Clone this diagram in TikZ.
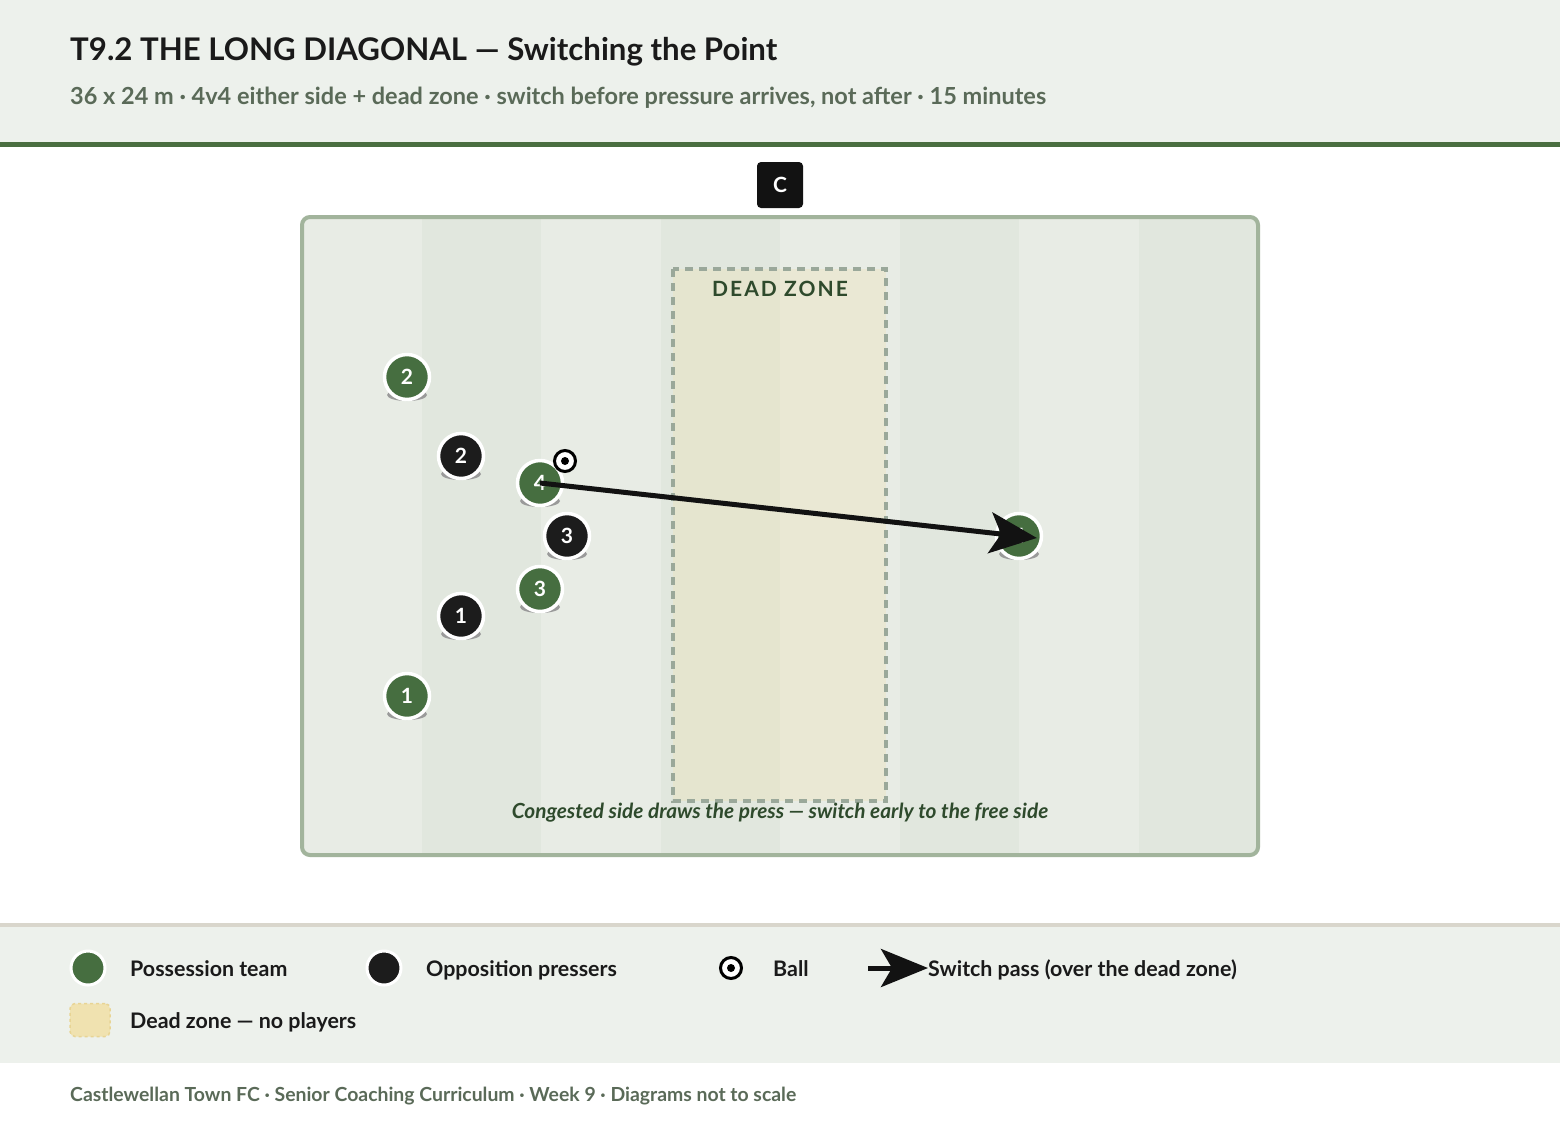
\documentclass[tikz,border=0pt]{standalone}
\usepackage{fontspec}
\setmainfont{Lato}
\usetikzlibrary{arrows.meta,calc}
\definecolor{hdrbg}{HTML}{EDF1EC}
\definecolor{hdrline}{HTML}{4A6E40}
\definecolor{legline}{HTML}{D9D6CC}
\definecolor{titlec}{HTML}{1A1A1A}
\definecolor{subc}{HTML}{5A6A58}
\definecolor{stripeA}{HTML}{E8ECE5}
\definecolor{stripeB}{HTML}{E1E7DE}
\definecolor{pitchline}{HTML}{A2B49C}
\definecolor{dzfill}{HTML}{F2E0A8}
\definecolor{dzline}{HTML}{9AA89A}
\definecolor{dztext}{HTML}{2E4A2C}
\definecolor{pgreen}{HTML}{466E40}
\definecolor{pblack}{HTML}{1C1C1C}
\definecolor{shd}{HTML}{9A9A9A}
\definecolor{swatch}{HTML}{F0E2B0}
\definecolor{swatchline}{HTML}{E8D494}
\newcommand\plyr[5]{%
  \fill[shd] (#2,#3+18) ellipse [x radius=20, y radius=6];
  \node[player, fill=#4] (#1) at (#2,#3) {#5};}
\begin{document}
\begin{tikzpicture}[x=1pt,y=-1pt,
  player/.style={circle, minimum size=45pt, inner sep=0pt, draw=white, line width=3.5pt,
    text=white, font=\bfseries\fontsize{21}{21}\selectfont},
  legdot/.style={circle, minimum size=34pt, inner sep=0pt, draw=white, line width=3pt},
  ballnode/.style={circle, minimum size=21pt, inner sep=0pt, draw=black, line width=3pt, fill=white},
  legtext/.style={anchor=base west, inner sep=0pt, text=titlec, font=\bfseries\fontsize{21.4}{24}\selectfont},
  passarrow/.style={line width=5pt, draw=black!93, -{Stealth[length=47pt, width=41pt, inset=11pt]}},
]
\useasboundingbox (0,0) rectangle (1560,1120);
\fill[white] (0,0) rectangle (1560,1120);
% header
\fill[hdrbg] (0,0) rectangle (1560,142);
\fill[hdrline] (0,142) rectangle (1560,147);
\node[anchor=base west, inner sep=0pt, text=titlec, font=\bfseries\fontsize{31.2}{36}\selectfont] (title) at (70,60)
  {T9.2 THE LONG DIAGONAL — Switching the Point};
\node[anchor=base west, inner sep=0pt, text=subc, font=\bfseries\fontsize{23.5}{26}\selectfont] (sub) at (70,104)
  {36 x 24 m · 4v4 either side + dead zone · switch before pressure arrives, not after · 15 minutes};
% coach
\node[rectangle, rounded corners=4pt, fill=black!93, minimum width=46pt, minimum height=46pt, inner sep=0pt,
  text=white, font=\bfseries\fontsize{21}{21}\selectfont] (coach) at (780,185) {C};
% pitch stripes
\begin{scope}
  \clip[rounded corners=8pt] (302,217) rectangle (1258,855);
  \foreach \i in {0,...,7} {
    \pgfmathsetmacro\xa{302+119.5*\i}
    \pgfmathsetmacro\xb{302+119.5*(\i+1)}
    \pgfmathparse{mod(\i,2)==0 ? "stripeA" : "stripeB"}
    \fill[\pgfmathresult] (\xa,217) rectangle (\xb,855);
  }
\end{scope}
\draw[pitchline, line width=4pt, rounded corners=8pt] (302,217) rectangle (1258,855);
% dead zone
\fill[dzfill, fill opacity=0.27] (673,269) rectangle (886,801);
\draw[dzline, line width=3.5pt, dash pattern=on 8pt off 6pt] (673,269) rectangle (886,801);
\node[text=dztext, inner sep=0pt, font=\bfseries\fontsize{21}{21}\selectfont\addfontfeatures{LetterSpace=10}] (dzlabel) at (780,289) {DEAD ZONE};
\node[anchor=base, text=dztext, inner sep=0pt, font=\bfseries\itshape\fontsize{20.8}{22}\selectfont] (caption) at (780,818)
  {Congested side draws the press — switch early to the free side};
% players
\plyr{g2}{407}{377}{pgreen}{2}
\plyr{b2}{461}{456}{pblack}{2}
\plyr{g4}{540}{483}{pgreen}{4}
\plyr{b3}{567}{536}{pblack}{3}
\plyr{g3}{540}{589}{pgreen}{3}
\plyr{b1}{461}{616}{pblack}{1}
\plyr{g1}{407}{696}{pgreen}{1}
\plyr{t4}{1019}{536}{pgreen}{4}
% ball
\node[ballnode] (ball) at (565,461) {};
\fill[black] (ball.center) circle [radius=4];
% switch pass
\draw[passarrow, shorten >=-18pt] (g4.center) -- (t4.center);
% legend
\fill[hdrbg] (0,925) rectangle (1560,1063);
\fill[legline] (0,923) rectangle (1560,927);
\node[legdot, fill=pgreen] (lg1) at (88,968) {};
\node[legtext] (lt1) at (130,976.5) {Possession team};
\node[legdot, fill=pblack] (lg2) at (384,968) {};
\node[legtext] (lt2) at (426,976.5) {Opposition pressers};
\node[ballnode] (lg3) at (731,968) {};
\fill[black] (lg3.center) circle [radius=4];
\node[legtext] (lt3) at (773,976.5) {Ball};
\coordinate (la) at (868,968);
\node[legtext] (lt4) at (928,976.5) {Switch pass (over the dead zone)};
\draw[line width=5pt, draw=black!93, -{Stealth[length=47pt, width=38pt, inset=11pt]}] (la) -- (lt4.west |- la);
\node[rectangle, rounded corners=5pt, fill=swatch, draw=swatchline, dashed, line width=1.5pt,
  minimum width=40pt, minimum height=33pt, inner sep=0pt] (lg5) at (90,1020) {};
\node[legtext] (lt5) at (130,1028.5) {Dead zone — no players};
% footer
\node[anchor=base west, inner sep=0pt, text=subc, font=\bfseries\fontsize{19.4}{22}\selectfont] (footer) at (70,1101)
  {Castlewellan Town FC · Senior Coaching Curriculum · Week 9 · Diagrams not to scale};
\end{tikzpicture}
\end{document}
